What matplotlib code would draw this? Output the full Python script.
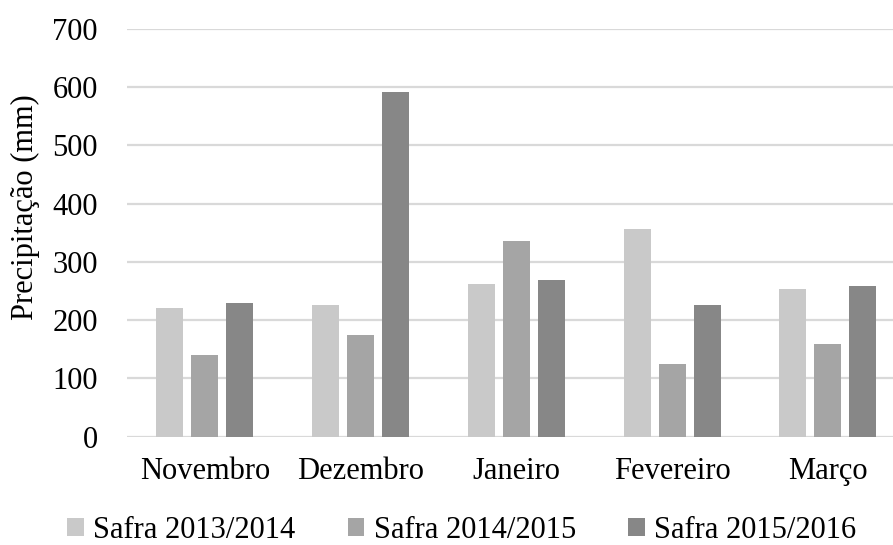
import matplotlib.pyplot as plt
import numpy as np

# Precipitação mensal por safra
meses = ["Novembro", "Dezembro", "Janeiro", "Fevereiro", "Março"]
safra_2013_2014 = [220, 226, 262, 357, 253]
safra_2014_2015 = [140, 175, 335, 124, 159]
safra_2015_2016 = [230, 591, 268, 226, 259]
series = ["Safra 2013/2014", "Safra 2014/2015", "Safra 2015/2016"]
cores = ["#c9c9c9", "#a5a5a5", "#878787"]

plt.rcParams['font.family'] = ['Liberation Serif', 'DejaVu Serif']

fig = plt.figure(figsize=(8.93, 5.45), dpi=100)
# a área do gráfico passa um pouco da borda direita
ax = fig.add_axes([0.1422, 0.199, 0.872, 0.748])

x = np.arange(len(meses))
largura = 0.173
passo = 0.225
dados = [safra_2013_2014, safra_2014_2015, safra_2015_2016]
for i, (vals, nome, cor) in enumerate(zip(dados, series, cores)):
    ax.bar(x + (i - 1) * passo, vals, width=largura, color=cor, label=nome, zorder=3)

ax.set_xlim(-0.5, len(meses) - 0.5)
ax.set_ylim(0, 700)
ax.set_yticks(range(0, 701, 100))
ax.set_xticks(x)
ax.set_xticklabels(meses)
ax.tick_params(axis='both', length=0, labelsize=22, colors='black')
ax.tick_params(axis='x', pad=15)
ax.tick_params(axis='y', pad=21)
ax.yaxis.grid(True, color='#d9d9d9', linewidth=1.6, zorder=0)
for s in ax.spines.values():
    s.set_visible(False)

fig.text(25 / 893, 1 - 207 / 545, "Precipitação (mm)", fontsize=22,
         rotation=90, ha='center', va='center')

fig.legend(loc='center', bbox_to_anchor=(0.517, 0.027), ncol=3, frameon=False,
           fontsize=22, handlelength=0.55, handleheight=0.55, handletextpad=0.3,
           columnspacing=1.7)

plt.savefig("out.png", dpi=100)
